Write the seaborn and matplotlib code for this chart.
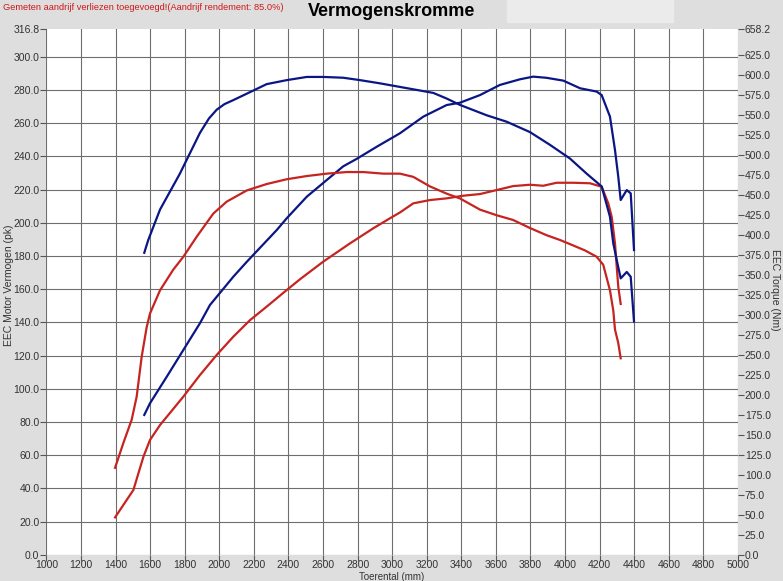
import numpy as np
import pandas as pd
import seaborn as sns
import matplotlib.pyplot as plt
from matplotlib.patches import Rectangle

# vermogen (pk) en koppel (Nm)
rpm_vermogen_blauw = [1566, 1599, 1696, 1792, 1888, 1946, 2081, 2159, 2245, 2332, 2390, 2506, 2621,
                      2717, 2795, 2911, 3045, 3180, 3315, 3392, 3508, 3623, 3739, 3816, 3893, 3990,
                      4087, 4183, 4212, 4260, 4289, 4308, 4322, 4357, 4380, 4399]
vermogen_blauw = [84.3, 91.3, 107.3, 123.4, 139.5, 150.5, 167.5, 176.5, 186.0, 195.6, 202.7, 215.7, 225.7,
                  234.0, 238.5, 245.8, 253.9, 263.9, 270.9, 272.3, 276.9, 283.0, 286.4, 288.0, 287.3, 285.6,
                  281.0, 279.0, 276.9, 263.9, 243.8, 227.7, 213.7, 219.7, 217.7, 183.6]

rpm_koppel_blauw = [1566, 1589, 1657, 1772, 1888, 1940, 1985, 2030, 2081, 2197, 2274, 2390, 2506, 2602,
                    2717, 2814, 2929, 3084, 3238, 3315, 3392, 3547, 3662, 3797, 3913, 4028, 4125, 4212,
                    4260, 4279, 4299, 4322, 4357, 4380, 4399]
koppel_blauw = [378, 394, 432, 477, 528, 546, 557, 564, 569, 581, 589, 594, 598, 598,
                597, 594, 590, 584, 578, 571, 563, 550, 542, 529, 513, 496, 477, 461,
                423, 390, 369, 346, 354, 348, 292]

rpm_vermogen_rood = [1397, 1503, 1561, 1599, 1657, 1792, 1888, 1985, 2081, 2178, 2274, 2390, 2467, 2600,
                     2756, 2891, 2987, 3045, 3122, 3219, 3315, 3411, 3508, 3604, 3700, 3797, 3874, 3951,
                     4048, 4144, 4212, 4250, 4270, 4289, 4299, 4308, 4322]
vermogen_rood = [22.6, 39.1, 59.1, 69.2, 78.2, 95.3, 108.3, 120.4, 131.4, 141.4, 149.5, 159.5, 166.0, 176.5,
                 187.6, 196.7, 202.7, 206.2, 211.7, 213.7, 214.7, 216.3, 217.3, 219.7, 222.1, 222.9, 222.3, 224.1,
                 224.1, 223.8, 221.7, 211.7, 203.6, 187.6, 173.6, 161.5, 151.1]

rpm_koppel_rood = [1397, 1445, 1493, 1522, 1551, 1580, 1599, 1657, 1734, 1792, 1869, 1965, 2043, 2159,
                   2274, 2390, 2506, 2621, 2737, 2833, 2949, 3045, 3122, 3219, 3315, 3392, 3508, 3604,
                   3700, 3797, 3893, 3971, 4038, 4115, 4183, 4221, 4260, 4279, 4289, 4308, 4322]
koppel_rood = [109, 140, 169, 198, 248, 285, 302, 331, 357, 373, 398, 427, 442, 456,
               464, 470, 474, 477, 479, 479, 477, 477, 473, 461, 452, 446, 432, 425,
               419, 409, 400, 394, 388, 381, 373, 363, 331, 306, 282, 265, 246]

x_ticks = list(range(1000, 5001, 200))
y_ticks_pk = [0, 20, 40, 60, 80, 100, 120, 140, 160, 180, 200, 220, 240, 260, 280, 300, 316.8]
y_ticks_nm = [0, 25, 50, 75, 100, 125, 150, 175, 200, 225, 250, 275, 300, 325, 350, 375,
              400, 425, 450, 475, 500, 525, 550, 575, 600, 625, 658.2]

BLAUW = '#0b1685'
ROOD = '#c62420'
GRIJS = '#dedede'

plt.rcParams['font.family'] = ['Liberation Sans', 'DejaVu Sans']

fig = plt.figure(figsize=(7.83, 5.81), dpi=100, facecolor=GRIJS)
ax = fig.add_axes([0.0593, 0.0449, 0.8831, 0.9055])
ax.set_facecolor('white')
ax2 = ax.twinx()

sns.lineplot(x=rpm_vermogen_blauw, y=vermogen_blauw, ax=ax, color=BLAUW, lw=1.6, estimator=None, sort=False)
sns.lineplot(x=rpm_vermogen_rood, y=vermogen_rood, ax=ax, color=ROOD, lw=1.6, estimator=None, sort=False)
sns.lineplot(x=rpm_koppel_blauw, y=koppel_blauw, ax=ax2, color=BLAUW, lw=1.6, estimator=None, sort=False)
sns.lineplot(x=rpm_koppel_rood, y=koppel_rood, ax=ax2, color=ROOD, lw=1.6, estimator=None, sort=False)

ax.set_xlim(1000, 5000)
ax.set_ylim(0, 316.8)
ax2.set_ylim(0, 658.2)

ax.set_xticks(x_ticks)
ax.set_yticks(y_ticks_pk)
ax.set_yticklabels([f'{v:.1f}' for v in y_ticks_pk])
ax2.set_yticks(y_ticks_nm)
ax2.set_yticklabels([f'{v:.1f}' for v in y_ticks_nm])

ax.grid(True, color='#6e6e6e', lw=0.8)
ax.set_axisbelow(True)
# bovenste lijn (316.8) geen rasterlijn
ax.yaxis.get_gridlines()[-1].set_visible(False)

for a in (ax, ax2):
    for s in a.spines.values():
        s.set_visible(False)
    a.tick_params(labelsize=7.5, colors='#555555', labelcolor='#333333', length=4, width=0.8, pad=1)
ax.tick_params(axis='x', pad=0)

ax.set_xlabel('')
ax.set_ylabel('')
ax2.set_ylabel('')

fig.text(392 / 783, 1 - 11 / 581, 'Vermogenskromme', ha='center', va='center',
         fontsize=13, fontweight='bold', color='black')
fig.text(3 / 783, 1 - 7 / 581, 'Gemeten aandrijf verliezen toegevoegd!(Aandrijf rendement: 85.0%)',
         ha='left', va='center', fontsize=6.7, color='#d01818')
fig.add_artist(Rectangle((507 / 783, 1 - 22 / 581), 166 / 783, 22 / 581,
                         transform=fig.transFigure, color='#ebebeb', zorder=0))
fig.text(9 / 783, 1 - 285 / 581, 'EEC Motor Vermogen (pk)', rotation=90, ha='center', va='center',
         fontsize=7.5, color='#333333')
fig.text(775 / 783, 1 - 290 / 581, 'EEC Torque (Nm)', rotation=270, ha='center', va='center',
         fontsize=7.5, color='#333333')
fig.text(392 / 783, 1 - 576.5 / 581, 'Toerental (mm)', ha='center', va='center',
         fontsize=7, color='#333333')

fig.savefig('out.png', dpi=100, facecolor=GRIJS)
